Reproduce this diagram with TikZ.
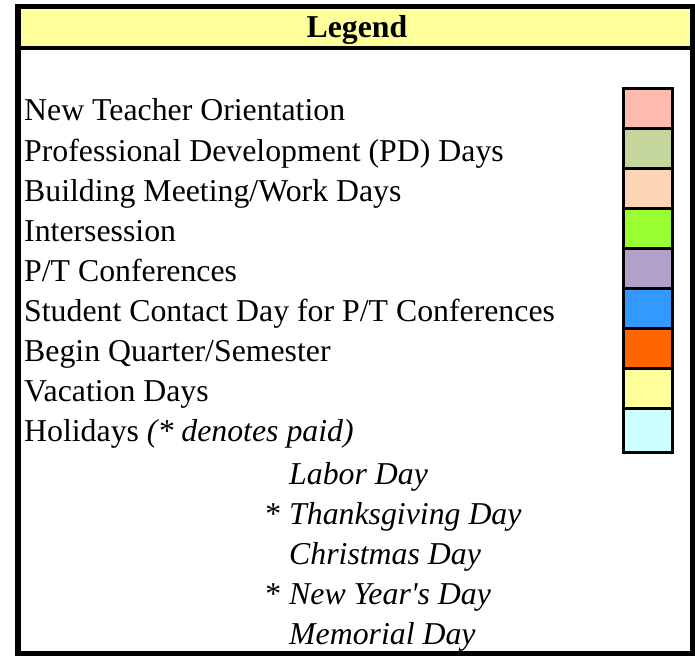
\documentclass[tikz,border=0pt]{standalone}
\usepackage{fontspec}
\setmainfont{Liberation Serif}
\definecolor{headyellow}{HTML}{FFFF99}
\definecolor{ntocol}{HTML}{FFBBAD}
\definecolor{pdcol}{HTML}{C4D69C}
\definecolor{bmwcol}{HTML}{FCD5B4}
\definecolor{intercol}{HTML}{99FF33}
\definecolor{ptccol}{HTML}{B1A0C7}
\definecolor{scdcol}{HTML}{3399FF}
\definecolor{bqscol}{HTML}{FF6600}
\definecolor{vaccol}{HTML}{FFFF99}
\definecolor{holcol}{HTML}{CCFFFF}
\tikzset{
  item/.style={anchor=base west, inner sep=0pt, font=\fontsize{31.8}{40}\selectfont},
  holiday/.style={item, font=\fontsize{31.8}{40}\selectfont\itshape},
  swatch/.style={draw=black, line width=3pt, minimum width=49pt, minimum height=40pt, inner sep=0pt}
}
\begin{document}
\begin{tikzpicture}[x=1pt,y=-1pt]
\useasboundingbox (0,0) rectangle (695,655);
\fill[headyellow] (18,6.5) rectangle (692.5,48);
\draw[line width=4pt] (18,48) -- (692.5,48);
\draw[line width=5.5pt] (18,6.5) rectangle (692.5,654);
\node[anchor=base, inner sep=0pt, font=\fontsize{31.8}{40}\selectfont\bfseries] (title) at (357,38) {Legend};
\node[item] (nto) at (24,121) {New Teacher Orientation};
\node[item] (pd) at (24,161) {Professional Development (PD) Days};
\node[item] (bmw) at (24,201) {Building Meeting/Work Days};
\node[item] (inter) at (24,241) {Intersession};
\node[item] (ptc) at (24,281) {P/T Conferences};
\node[item] (scd) at (24,321) {Student Contact Day for P/T Conferences};
\node[item] (bqs) at (24,361) {Begin Quarter/Semester};
\node[item] (vac) at (24,401) {Vacation Days};
\node[item] (hol) at (24,441) {Holidays \textit{(* denotes paid)}};
\node[holiday] (labor) at (289,484) {Labor Day};
\node[holiday] (thanks) at (289,524) {\llap{\upshape*\ }Thanksgiving Day};
\node[holiday] (xmas) at (289,564) {Christmas Day};
\node[holiday] (newyear) at (289,604) {\llap{\upshape*\ }New Year\textquotesingle s Day};
\node[holiday] (memorial) at (289,644) {Memorial Day};
\node[swatch, fill=ntocol] (ntosw) at (647.5,108.5) {};
\node[swatch, fill=pdcol] (pdsw) at (647.5,148.5) {};
\node[swatch, fill=bmwcol] (bmwsw) at (647.5,188.5) {};
\node[swatch, fill=intercol] (intersw) at (647.5,228.5) {};
\node[swatch, fill=ptccol] (ptcsw) at (647.5,268.5) {};
\node[swatch, fill=scdcol] (scdsw) at (647.5,308.5) {};
\node[swatch, fill=bqscol] (bqssw) at (647.5,348.5) {};
\node[swatch, fill=vaccol] (vacsw) at (647.5,388.5) {};
\node[swatch, fill=holcol, minimum height=44pt] (holsw) at (647.5,430.5) {};
\end{tikzpicture}
\end{document}
